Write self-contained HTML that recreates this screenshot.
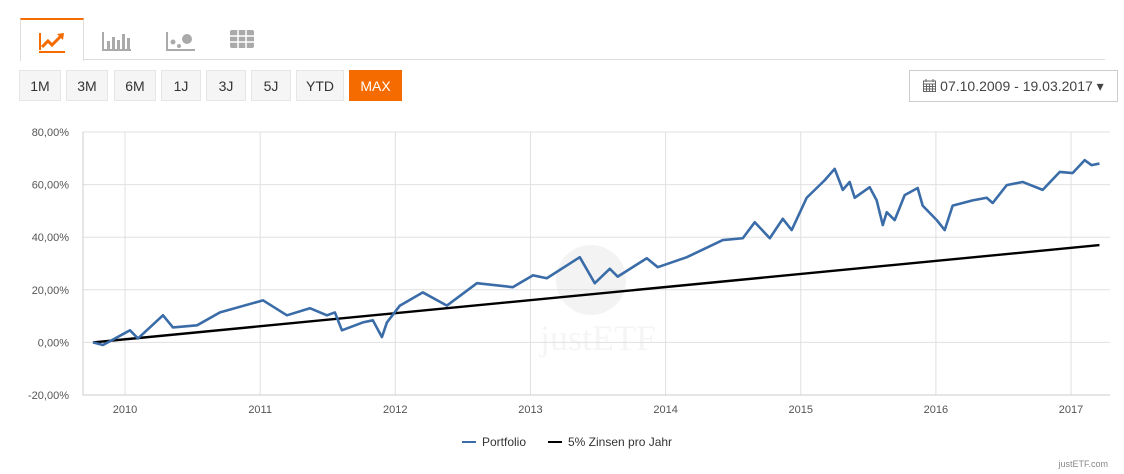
<!DOCTYPE html>
<html><head><meta charset="utf-8"><style>
body{margin:0;width:1124px;height:474px;background:#fff;font-family:"Liberation Sans",sans-serif;overflow:hidden;position:relative}
.tab{position:absolute;top:18px;height:42px;width:62px}
.tab.active{left:20px;border-top:2px solid #f56b00;border-left:1px solid #ddd;border-right:1px solid #ddd;background:#fff;z-index:2;height:41px}
.tabline{position:absolute;left:20px;top:59px;width:1085px;height:1px;background:#ddd}
.btn{position:absolute;top:70px;height:31px;background:#f5f5f5;border:1px solid #e6e6e6;box-sizing:border-box;font-size:14px;color:#333;text-align:center;line-height:30px}
.btn.on{background:#f56b00;border-color:#f56b00;color:#fff}
.date{position:absolute;left:909px;top:70px;width:209px;height:32px;border:1px solid #ccc;box-sizing:border-box;font-size:14px;color:#444;line-height:30px;text-align:center}
</style></head><body>
<div class="tabline"></div>
<div class="tab active">
<svg width="62" height="40"><path d="M18 32 L44 32" stroke="#f56b00" stroke-width="2"/><path d="M19 30 V13" stroke="#f56b00" stroke-width="2"/><path d="M21 27 L27 21 L31 25 L40 16" stroke="#f56b00" stroke-width="3" fill="none"/><path d="M36 14 L43 13 L42 20 Z" fill="#f56b00"/></svg></div>
<div class="tab" style="left:84px"><svg width="62" height="40"><path d="M19 14 V32 H47" stroke="#aaa" stroke-width="2" fill="none"/><rect x="23" y="23" width="3" height="8" fill="#aaa"/><rect x="28" y="19" width="3" height="12" fill="#aaa"/><rect x="33" y="22" width="3" height="9" fill="#aaa"/><rect x="38" y="16" width="3" height="15" fill="#aaa"/><rect x="43" y="20" width="3" height="11" fill="#aaa"/></svg></div>
<div class="tab" style="left:148px"><svg width="62" height="40"><path d="M19 14 V32 H47" stroke="#aaa" stroke-width="2" fill="none"/><circle cx="25" cy="24" r="2.5" fill="#aaa"/><circle cx="31" cy="28" r="2" fill="#aaa"/><circle cx="39" cy="21" r="5" fill="#aaa"/></svg></div>
<div class="tab" style="left:212px"><svg width="62" height="40"><rect x="18" y="12" width="24" height="18" rx="2" fill="#aaa"/><path d="M18 18 H42 M18 24 H42 M26 12 V30 M34 12 V30" stroke="#fff" stroke-width="1.5"/></svg></div>

<div class="btn" style="left:19px;width:42px">1M</div>
<div class="btn" style="left:66px;width:42px">3M</div>
<div class="btn" style="left:114px;width:42px">6M</div>
<div class="btn" style="left:161px;width:40px">1J</div>
<div class="btn" style="left:206px;width:40px">3J</div>
<div class="btn" style="left:251px;width:40px">5J</div>
<div class="btn" style="left:296px;width:48px">YTD</div>
<div class="btn on" style="left:349px;width:53px">MAX</div>
<div class="date"><svg width="13" height="13" style="vertical-align:-1px"><rect x="0.5" y="2" width="12" height="10.5" fill="none" stroke="#666"/><path d="M0.5 5 H12.5 M3.5 5 V12 M6.5 5 V12 M9.5 5 V12 M0.5 7.5 H12.5 M0.5 10 H12.5 M3 0 V3 M10 0 V3" stroke="#666"/></svg> 07.10.2009 - 19.03.2017 ▾</div>

<svg id="chart" width="1124" height="474" style="position:absolute;left:0;top:0">
<g><circle cx="591" cy="280" r="35" fill="#f3f3f3"/><text x="598" y="350" font-family="Liberation Serif,serif" font-size="36" fill="#f5f5f5" text-anchor="middle">justETF</text></g>
</svg>
<script>
const yTicks=[80,60,40,20,0,-20];
const xYears=[2010,2011,2012,2013,2014,2015,2016,2017];
const pfDates=[2009.763,2009.837,2010.037,2010.096,2010.281,2010.355,2010.533,2010.703,2011.021,2011.198,2011.368,2011.494,2011.553,2011.605,2011.760,2011.834,2011.901,2011.938,2012.034,2012.204,2012.382,2012.604,2012.870,2013.018,2013.121,2013.365,2013.476,2013.587,2013.646,2013.861,2013.942,2014.157,2014.423,2014.571,2014.660,2014.771,2014.867,2014.933,2015.044,2015.178,2015.251,2015.311,2015.362,2015.399,2015.510,2015.562,2015.607,2015.636,2015.695,2015.769,2015.865,2015.902,2016.006,2016.065,2016.124,2016.272,2016.376,2016.420,2016.524,2016.642,2016.790,2016.916,2017.012,2017.101,2017.152,2017.210];
const pfValues=[0,-1,4.6,1.5,10.3,5.7,6.5,11.4,16,10.3,13,10.3,11.4,4.6,7.6,8.4,2,7.6,14,19,14,22.5,21,25.5,24.4,32.4,22.5,28,25,32,28.6,32.4,38.9,39.6,45.7,39.6,47,42.7,55,61.7,66,58,61,55,59,54,44.6,49.5,46.5,56,58.7,52,46.5,42.7,52,54,55,53,59.8,61,58,64.8,64.4,69.3,67.4,68];
const rateDates=[2009.763,2017.210];
const rateValues=[0,37];
const L=83,R=1110,T=132,B=395,yMin=-20,yMax=80;
const x=t=>125+(t-2010)*135.15;
const y=v=>B-(v-yMin)/(yMax-yMin)*(B-T);
const svg=document.getElementById('chart');
const NS='http://www.w3.org/2000/svg';
function mk(tag,attrs,parent){const e=document.createElementNS(NS,tag);for(const k in attrs)e.setAttribute(k,attrs[k]);(parent||svg).appendChild(e);return e;}
yTicks.forEach(v=>{
 const g=mk('line',{x1:L,x2:R,y1:y(v),y2:y(v),stroke:'#e0e0e0','stroke-width':1});
 
 
 const t=mk('text',{x:69,y:y(v)+4,'font-size':11,fill:'#555','text-anchor':'end'});
 t.textContent=v.toFixed(2).replace('.',',')+'%';
 
 
});
xYears.forEach(yr=>{
 const g=mk('line',{x1:x(yr),x2:x(yr),y1:T,y2:B,stroke:'#e0e0e0','stroke-width':1});
 
 
 const t=mk('text',{x:x(yr),y:413,'font-size':11,fill:'#555','text-anchor':'middle'});
 t.textContent=yr;
 
 
});
const ax=mk('path',{d:`M${L} ${T} V${B} H${R}`,stroke:'#ccc',fill:'none'});


const rp=mk('polyline',{points:rateDates.map((d,i)=>x(d)+','+y(rateValues[i])).join(' '),fill:'none',stroke:'#000','stroke-width':2.4});


const pp=mk('polyline',{points:pfDates.map((d,i)=>x(d)+','+y(pfValues[i])).join(' '),fill:'none',stroke:'#3a6ca8','stroke-width':2.6,'stroke-linejoin':'round'});


const l1=mk('line',{x1:462,x2:476,y1:442,y2:442,stroke:'#3a6ca8','stroke-width':2});


const t1=mk('text',{x:482,y:446,'font-size':12,fill:'#333'});t1.textContent='Portfolio';


const l2=mk('line',{x1:548,x2:562,y1:442,y2:442,stroke:'#000','stroke-width':2});


const t2=mk('text',{x:568,y:446,'font-size':12,fill:'#333'});t2.textContent='5% Zinsen pro Jahr';


const cr=mk('text',{x:1108,y:467,'font-size':9,fill:'#888','text-anchor':'end'});cr.textContent='justETF.com';


</script>
</body></html>
